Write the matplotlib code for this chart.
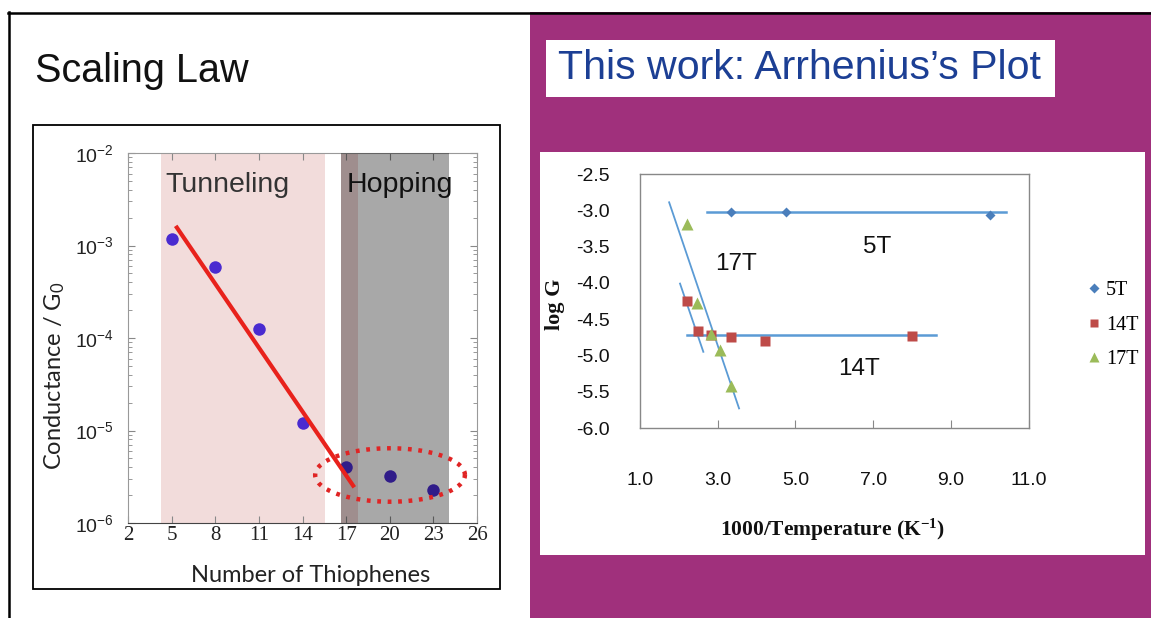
import numpy as np
import matplotlib
matplotlib.use('Agg')
import matplotlib.pyplot as plt
from matplotlib.patches import Rectangle
from matplotlib.lines import Line2D

plt.rcParams['mathtext.default'] = 'regular'
plt.rcParams['font.family'] = ['Liberation Sans', 'DejaVu Sans']

W, H = 1151, 618

# ---------------- data: scaling law (left) ----------------
n_thiophenes = [5, 8, 11, 14, 17, 20, 23]
conductance = [1.19e-3, 5.9e-4, 1.25e-4, 1.21e-5, 4.0e-6, 3.2e-6, 2.3e-6]
fit_n = [5.28, 17.56]
fit_g = [1.63e-3, 2.43e-6]
tunneling_range = [4.27, 15.55]
hopping_range = [16.65, 24.1]
hopping_pink_range = [16.65, 17.82]
left_xticks = [2, 5, 8, 11, 14, 17, 20, 23, 26]
left_yticks = [1e-6, 1e-5, 1e-4, 1e-3, 1e-2]
left_yticklabels = [r'$10^{-6}$', r'$10^{-5}$', r'$10^{-4}$', r'$10^{-3}$', r'$10^{-2}$']

# ---------------- data: Arrhenius plot (right) ----------------
x_5T = [3.34, 4.76, 10.0]
y_5T = [-3.02, -3.03, -3.06]
x_14T = [2.20, 2.50, 2.83, 3.33, 4.23, 7.99]
y_14T = [-4.25, -4.67, -4.72, -4.75, -4.80, -4.73]
x_17T = [2.20, 2.48, 2.83, 3.06, 3.33]
y_17T = [-3.19, -4.28, -4.71, -4.93, -5.42]
trend_5T_x, trend_5T_y = [2.72, 10.42], [-3.02, -3.02]
trend_14T_flat_x, trend_14T_flat_y = [2.20, 8.63], [-4.72, -4.72]
trend_14T_steep_x, trend_14T_steep_y = [2.03, 2.63], [-4.01, -4.95]
trend_17T_x, trend_17T_y = [1.75, 3.55], [-2.89, -5.73]
right_xticks = [1.0, 3.0, 5.0, 7.0, 9.0, 11.0]
right_yticks = [-6.0, -5.5, -5.0, -4.5, -4.0, -3.5, -3.0, -2.5]
series_labels = ['5T', '14T', '17T']

fig = plt.figure(figsize=(W / 100, H / 100), dpi=100)
fig.patch.set_facecolor('white')


def fx(px):
    return px / W


def fy(py):
    return 1 - py / H


def frect(x0, y0, x1, y1, **kw):
    r = Rectangle((fx(x0), fy(y1)), (x1 - x0) / W, (y1 - y0) / H,
                  transform=fig.transFigure, **kw)
    fig.add_artist(r)
    return r


# slide background pieces
frect(530, 12, 1151, 618, facecolor='#a0307c', edgecolor='none', zorder=-10)
frect(546, 40, 1055, 97, facecolor='white', edgecolor='none', zorder=-9)
frect(540, 152, 1145, 555, facecolor='white', edgecolor='none', zorder=-9)
frect(33, 125, 500, 589, facecolor='none', edgecolor='black', lw=1.3, zorder=-8)
fig.add_artist(Line2D([fx(8), 1], [fy(12.5), fy(12.5)], color='black', lw=1.8,
                      transform=fig.transFigure, zorder=10))
fig.add_artist(Line2D([fx(8.5), fx(8.5)], [fy(12), 0], color='black', lw=1.8,
                      transform=fig.transFigure, zorder=10))

fig.text(fx(35), fy(82), 'Scaling Law', fontsize=28.5, va='baseline', ha='left',
         color='#111111')
fig.text(fx(558), fy(68), 'This work: Arrhenius\u2019s Plot', fontsize=29.6,
         va='center', ha='left', color='#1c3f94')

# ---------------- left chart ----------------
ax1 = fig.add_axes([fx(128), fy(523), 349 / W, 370 / H])
ax1.set_yscale('log')
ax1.set_xlim(2, 26)
ax1.set_ylim(1e-6, 1e-2)
ax1.axvspan(*tunneling_range, color='#f2dcdb', lw=0, zorder=0)
ax1.axvspan(*hopping_pink_range, color='#f2d8d8', lw=0, zorder=0)
ax1.plot(n_thiophenes, conductance, 'o', color='#4a2bd0', ms=9, mec='none', zorder=2)
ax1.axvspan(*hopping_range, color='black', alpha=0.34, lw=0, zorder=3)
ax1.plot(fit_n, fit_g, color='#e8221c', lw=3, zorder=4, solid_capstyle='butt')
t = np.linspace(0, 2 * np.pi, 300)
ell_x = 20.02 + 5.15 * np.cos(t)
ell_y = 10 ** (-5.481 + 0.289 * np.sin(t))
ax1.plot(ell_x, ell_y, color='#e02424', lw=3.2, ls=(0, (0.85, 1.5)),
         dash_capstyle='butt', zorder=5)
ax1.text(4.54, 0.8954, 'Tunneling', transform=ax1.get_xaxis_transform(),
         fontsize=20.5, va='baseline', ha='left', color='#333333', zorder=6)
ax1.text(17.06, 0.8954, 'Hopping', transform=ax1.get_xaxis_transform(),
         fontsize=20.5, va='baseline', ha='left', color='#111111', zorder=6)

ax1.set_xticks(left_xticks)
ax1.set_xticklabels([str(v) for v in left_xticks], family='Liberation Serif',
                    fontsize=15)
ax1.set_yticks(left_yticks)
ax1.set_yticklabels(left_yticklabels, fontsize=14)
ax1.tick_params(axis='both', which='both', direction='in', top=True, right=True,
                color='#888888', labelcolor='#222222')
ax1.tick_params(axis='x', which='major', length=5, pad=2)
ax1.tick_params(axis='y', which='major', length=5, pad=10)
ax1.tick_params(axis='y', which='minor', length=3)
for s in ['left', 'top', 'right']:
    ax1.spines[s].set_color('#999999')
ax1.spines['bottom'].set_color('#444444')
ax1.set_facecolor('white')

fig.text(fx(311), fy(575), 'Number of Thiophenes', family='Lato', fontsize=17,
         ha='center', va='center', color='#222222')
fig.text(fx(55), fy(376), 'Conductance / G$_0$', family='Lato', fontsize=17,
         ha='center', va='center', rotation=90, color='#222222')

# ---------------- right chart ----------------
ax2 = fig.add_axes([fx(640), fy(428), 388.5 / W, 254 / H])
ax2.set_xlim(1, 11)
ax2.set_ylim(-6, -2.5)
line_c = '#5b9bd5'
ax2.plot(trend_5T_x, trend_5T_y, color=line_c, lw=1.8, zorder=2)
ax2.plot(trend_14T_flat_x, trend_14T_flat_y, color=line_c, lw=1.8, zorder=2)
ax2.plot(trend_14T_steep_x, trend_14T_steep_y, color=line_c, lw=1.3, zorder=2)
ax2.plot(trend_17T_x, trend_17T_y, color=line_c, lw=1.3, zorder=2)
h5, = ax2.plot(x_5T, y_5T, 'D', color='#4a7ebb', ms=5.5, mec='none', zorder=3)
h14, = ax2.plot(x_14T, y_14T, 's', color='#be4b48', ms=7.5, mec='none', zorder=3)
h17, = ax2.plot(x_17T, y_17T, '^', color='#9bbb59', ms=8, mec='none', zorder=4)

ax2.text(7.11, -3.593, '5T', fontsize=17.5, ha='center', va='baseline', color='#111111')
ax2.text(3.47, -3.823, '17T', fontsize=17.5, ha='center', va='baseline', color='#111111')
ax2.text(6.64, -5.27, '14T', fontsize=17.5, ha='center', va='baseline', color='#111111')

ax2.set_xticks(right_xticks)
ax2.set_xticklabels(['%.1f' % v for v in right_xticks], fontsize=14)
ax2.set_yticks(right_yticks)
ax2.set_yticklabels(['%.1f' % v for v in right_yticks], fontsize=14)
ax2.tick_params(axis='x', direction='in', length=6, color='#888888', pad=32,
                labelcolor='#111111')
ax2.tick_params(axis='y', length=0, pad=21.6, labelcolor='#111111')
for s in ax2.spines.values():
    s.set_color('#888888')
    s.set_linewidth(1.0)

fig.text(fx(555), fy(304), 'log G', family='Liberation Serif', weight='bold',
         fontsize=16, rotation=90, ha='center', va='center', color='#111111')
fig.text(fx(833), fy(530), '1000/Temperature (K$^{-1}$)', family='Liberation Serif',
         weight='bold', fontsize=15.5, ha='center', va='center', color='#111111')

fig.legend([h5, h14, h17], series_labels, loc='center left',
           bbox_to_anchor=(fx(1078), fy(325)), frameon=False, numpoints=1,
           prop={'family': 'Liberation Serif', 'size': 14.5}, handlelength=0.6,
           handletextpad=0.3, labelspacing=0.75, markerscale=0.85, borderpad=0)

fig.savefig('out.png', dpi=100)
